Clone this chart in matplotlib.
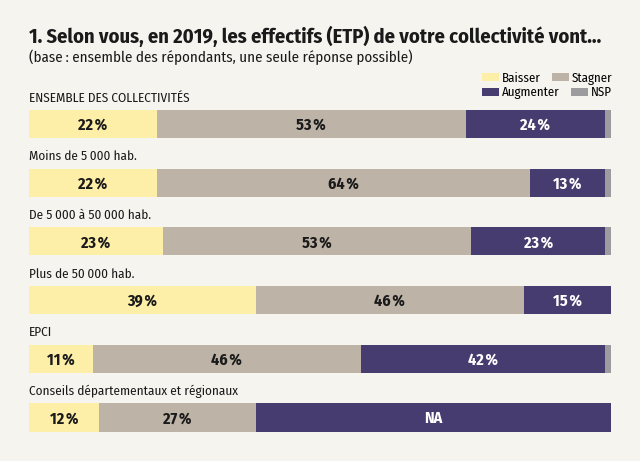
import numpy as np
import matplotlib.pyplot as plt
from matplotlib.patches import Patch

# Données
groupes = ["ENSEMBLE DES COLLECTIVITÉS", "Moins de 5\u2009000 hab.",
           "De 5\u2009000 à 50\u2009000 hab.", "Plus de 50\u2009000 hab.",
           "EPCI", "Conseils départementaux et régionaux"]
baisser = [22, 22, 23, 39, 11, 12]
stagner = [53, 64, 53, 46, 46, 27]
augmenter = [24, 13, 23, 15, 42, 61]
nsp = [1, 1, 1, 0, 1, 0]
etiq_aug = ["24\u200a%", "13\u200a%", "23\u200a%", "15\u200a%", "42\u200a%", "NA"]

series = ["Baisser", "Stagner", "Augmenter", "NSP"]
couleurs = {"Baisser": "#FEEFA8", "Stagner": "#BDB3A7",
            "Augmenter": "#463C6F", "NSP": "#9C9C9E"}

fond = "#F5F4EF"
plt.rcParams['font.family'] = ['Fira Sans Condensed', 'DejaVu Sans']

fig = plt.figure(figsize=(6.4, 4.61), dpi=100, facecolor=fond)
ax = fig.add_axes([29/640, 0, 582/640, 1])
ax.set_facecolor(fond)

y = np.arange(len(groupes))
h = 0.477
gauche = np.zeros(len(groupes))
for nom, vals in zip(series, [baisser, stagner, augmenter, nsp]):
    ax.barh(y, vals, left=gauche, height=h, color=couleurs[nom], edgecolor='none')
    for i, v in enumerate(vals):
        if nom == "NSP" or v == 0:
            continue
        txt = etiq_aug[i] if nom == "Augmenter" else f"{v}\u200a%"
        c = 'white' if nom == "Augmenter" else '#1a1a1a'
        ax.text(gauche[i] + v / 2, y[i] + 0.02, txt, ha='center', va='center',
                fontsize=11.5, fontweight='bold', color=c)
    gauche += np.array(vals)

for i, g in enumerate(groupes):
    ax.text(0, y[i] - h / 2 - 0.1, g, ha='left', va='bottom', fontsize=9.5,
            color='#1a1a1a')

ax.set_xlim(0, 100)
ax.set_ylim(5.741, -2.112)
ax.axis('off')

fig.text(29/640, 1 - 36/461, "1. Selon vous, en 2019, les effectifs (ETP) de votre collectivité vont…",
         ha='left', va='center', fontsize=14.7, fontweight='bold', color='#1a1a1a')
fig.text(29/640, 1 - 57/461, "(base\u2009: ensemble des répondants, une seule réponse possible)",
         ha='left', va='center', fontsize=10.8, color='#1a1a1a')

# légende : deux lignes indépendantes, comme dans l'original
for ligne, yc in ((["Baisser", "Stagner"], 78.5), (["Augmenter", "NSP"], 93)):
    poignees = [Patch(facecolor=couleurs[n], edgecolor='none') for n in ligne]
    fig.legend(poignees, ligne, ncol=2, loc='center left',
               bbox_to_anchor=(482/640, 1 - yc/461), frameon=False, fontsize=9.3,
               handlelength=1.32, handleheight=0.58, handletextpad=0.23,
               columnspacing=0.85, borderpad=0, borderaxespad=0)

fig.savefig("out.png", dpi=100, facecolor=fond)
